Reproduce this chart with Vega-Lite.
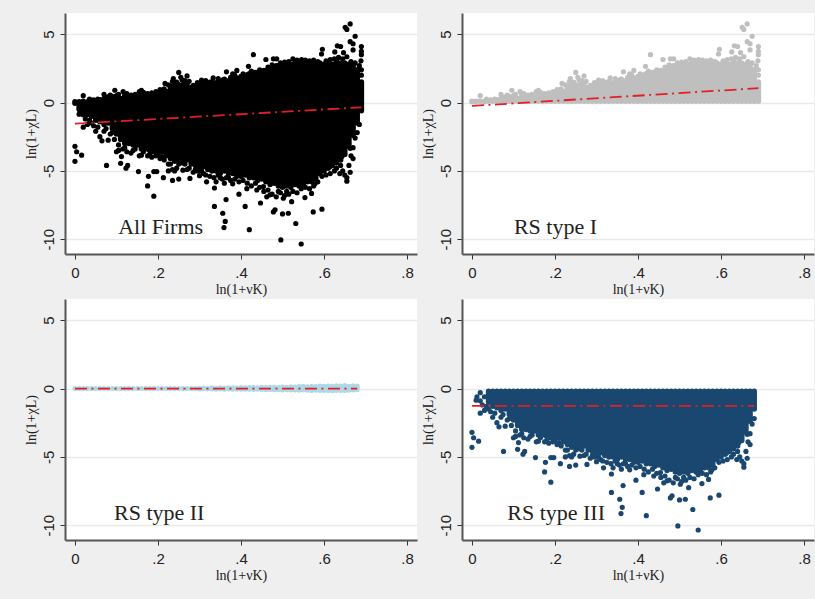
{"$schema":"https://vega.github.io/schema/vega-lite/v6.json","background":"#efefef","padding":{"left":24,"top":13,"right":1,"bottom":20},"autosize":{"type":"pad"},"columns":2,"spacing":{"row":3,"column":4},
"config":{"view":{"fill":"white","stroke":null},"axis":{"labelFont":"Liberation Sans","labelFontSize":15,"labelColor":"#222","titleFont":"Liberation Serif","titleFontSize":14,"titleFontWeight":"normal","titleColor":"#222","domainColor":"#555","domainWidth":2,"tickColor":"#333","tickSize":5,"tickWidth":1},"axisX":{"grid":false,"labelPadding":6,"titlePadding":2,"labelAngle":0},"axisY":{"grid":true,"gridColor":"#e9e9e9","gridWidth":1.5,"labelAngle":-90,"labelPadding":4,"titlePadding":3,"labelBaseline":"bottom","labelAlign":"center"}},
"datasets":{
"core":[{"x":0,"top":0.05,"bot":-0.05,"u":0,"l":0},{"x":0.01,"top":0.05,"bot":-0.5,"u":0,"l":0},{"x":0.02,"top":0.1,"bot":-0.7,"u":0,"l":0},{"x":0.03,"top":0.05,"bot":-0.9,"u":0,"l":0},{"x":0.04,"top":0.15,"bot":-1,"u":0,"l":0},{"x":0.05,"top":0.1,"bot":-1.3,"u":0,"l":0},{"x":0.06,"top":0.2,"bot":-1.4,"u":0,"l":0},{"x":0.07,"top":0.3,"bot":-1.6,"u":0,"l":0},{"x":0.08,"top":0.4,"bot":-1.5,"u":0,"l":0},{"x":0.09,"top":0.35,"bot":-1.9,"u":0,"l":0},{"x":0.1,"top":0.5,"bot":-2.3,"u":0,"l":0},{"x":0.11,"top":0.3,"bot":-2.7,"u":0,"l":0},{"x":0.12,"top":0.55,"bot":-3,"u":0,"l":0},{"x":0.13,"top":0.35,"bot":-3,"u":0,"l":0},{"x":0.14,"top":0.3,"bot":-3.1,"u":0,"l":0},{"x":0.15,"top":0.45,"bot":-3.1,"u":0,"l":0},{"x":0.16,"top":0.65,"bot":-3.4,"u":0,"l":0},{"x":0.17,"top":0.5,"bot":-3.4,"u":0,"l":0},{"x":0.18,"top":0.45,"bot":-3.5,"u":0,"l":0},{"x":0.19,"top":0.6,"bot":-3.6,"u":0,"l":0},{"x":0.2,"top":0.6,"bot":-3.8,"u":0,"l":0},{"x":0.21,"top":0.8,"bot":-3.6,"u":0,"l":0},{"x":0.22,"top":0.8,"bot":-3.9,"u":0,"l":0},{"x":0.23,"top":1.2,"bot":-4.1,"u":0,"l":0},{"x":0.24,"top":1.4,"bot":-4.3,"u":0,"l":0},{"x":0.25,"top":1.3,"bot":-4.2,"u":0,"l":0},{"x":0.26,"top":1.3,"bot":-4.4,"u":0,"l":0},{"x":0.27,"top":1.4,"bot":-4.2,"u":0,"l":0},{"x":0.28,"top":1.1,"bot":-4.5,"u":0,"l":0},{"x":0.29,"top":1.2,"bot":-4.6,"u":0,"l":0},{"x":0.3,"top":1.35,"bot":-4.7,"u":0.03,"l":-0.03},{"x":0.31,"top":1.4,"bot":-4.7,"u":0.04,"l":-0.02},{"x":0.32,"top":1.35,"bot":-4.9,"u":0.02,"l":-0.04},{"x":0.33,"top":1.5,"bot":-5,"u":0.05,"l":-0.03},{"x":0.34,"top":1.45,"bot":-5,"u":0.03,"l":-0.05},{"x":0.35,"top":1.5,"bot":-5.2,"u":0.05,"l":-0.04},{"x":0.36,"top":1.7,"bot":-5,"u":0.04,"l":-0.05},{"x":0.37,"top":1.6,"bot":-5.2,"u":0.06,"l":-0.04},{"x":0.38,"top":1.8,"bot":-5.2,"u":0.05,"l":-0.05},{"x":0.39,"top":1.8,"bot":-5.4,"u":0.04,"l":-0.06},{"x":0.4,"top":1.9,"bot":-5.4,"u":0.07,"l":-0.05},{"x":0.41,"top":1.9,"bot":-5.3,"u":0.06,"l":-0.05},{"x":0.42,"top":2.1,"bot":-5.5,"u":0.08,"l":-0.06},{"x":0.43,"top":2,"bot":-5.5,"u":0.07,"l":-0.07},{"x":0.44,"top":2.2,"bot":-5.7,"u":0.06,"l":-0.06},{"x":0.45,"top":2.2,"bot":-5.6,"u":0.09,"l":-0.07},{"x":0.46,"top":2.3,"bot":-5.8,"u":0.08,"l":-0.08},{"x":0.47,"top":2.5,"bot":-6,"u":0.09,"l":-0.07},{"x":0.48,"top":2.5,"bot":-5.9,"u":0.1,"l":-0.08},{"x":0.49,"top":2.7,"bot":-6.1,"u":0.08,"l":-0.09},{"x":0.5,"top":2.7,"bot":-6.2,"u":0.12,"l":-0.1},{"x":0.51,"top":2.8,"bot":-6.1,"u":0.1,"l":-0.09},{"x":0.52,"top":2.8,"bot":-6.2,"u":0.13,"l":-0.11},{"x":0.53,"top":2.9,"bot":-6,"u":0.11,"l":-0.1},{"x":0.54,"top":2.9,"bot":-6.1,"u":0.14,"l":-0.12},{"x":0.55,"top":2.8,"bot":-6,"u":0.16,"l":-0.11},{"x":0.56,"top":2.9,"bot":-5.8,"u":0.13,"l":-0.12},{"x":0.57,"top":2.85,"bot":-5.8,"u":0.17,"l":-0.14},{"x":0.58,"top":2.8,"bot":-5.6,"u":0.15,"l":-0.13},{"x":0.59,"top":2.9,"bot":-5.2,"u":0.18,"l":-0.14},{"x":0.6,"top":2.8,"bot":-5,"u":0.16,"l":-0.15},{"x":0.61,"top":2.9,"bot":-4.8,"u":0.19,"l":-0.14},{"x":0.62,"top":2.8,"bot":-4.6,"u":0.17,"l":-0.16},{"x":0.63,"top":3,"bot":-4.4,"u":0.2,"l":-0.15},{"x":0.64,"top":2.9,"bot":-4.2,"u":0.18,"l":-0.14},{"x":0.65,"top":2.9,"bot":-3.8,"u":0.23,"l":-0.15},{"x":0.66,"top":2.8,"bot":-3.2,"u":0.16,"l":-0.13},{"x":0.67,"top":2.7,"bot":-2.4,"u":0.2,"l":-0.1},{"x":0.68,"top":2.4,"bot":-1.5,"u":0.18,"l":-0.08},{"x":0.69,"top":1.5,"bot":-0.6}],
"pts":[{"x":0,"y":-3.2,"g":"l"},{"x":0.004,"y":-3.6,"g":"l"},{"x":0.016,"y":-3.85,"g":"l"},{"x":0,"y":-4.3,"g":"l"},{"x":0.076,"y":-4.6,"g":"l"},{"x":0.11,"y":-4.45,"g":"l"},{"x":0.1,"y":-3.6,"g":"l"},{"x":0.112,"y":-3.95,"g":"l"},{"x":0.127,"y":-4.6,"g":"l"},{"x":0.123,"y":-4.8,"g":"l"},{"x":0.153,"y":-5.05,"g":"l"},{"x":0.175,"y":-6.1,"g":"l"},{"x":0.177,"y":-5.4,"g":"l"},{"x":0.19,"y":-5.05,"g":"l"},{"x":0.197,"y":-5.05,"g":"l"},{"x":0.19,"y":-6.85,"g":"l"},{"x":0.213,"y":-5.5,"g":"l"},{"x":0.235,"y":-5.7,"g":"l"},{"x":0.225,"y":-5,"g":"l"},{"x":0.25,"y":-5.6,"g":"l"},{"x":0.26,"y":-4.95,"g":"l"},{"x":0.277,"y":-5.55,"g":"l"},{"x":0.3,"y":-5.35,"g":"l"},{"x":0.317,"y":-5.8,"g":"l"},{"x":0.336,"y":-6.25,"g":"l"},{"x":0.336,"y":-7.6,"g":"l"},{"x":0.356,"y":-8.1,"g":"l"},{"x":0.364,"y":-7.1,"g":"l"},{"x":0.362,"y":-8.7,"g":"l"},{"x":0.359,"y":-9.15,"g":"l"},{"x":0.34,"y":-5.8,"g":"l"},{"x":0.36,"y":-5.9,"g":"l"},{"x":0.38,"y":-5.95,"g":"l"},{"x":0.395,"y":-6.7,"g":"l"},{"x":0.41,"y":-7.6,"g":"l"},{"x":0.42,"y":-9.3,"g":"l"},{"x":0.414,"y":-6.3,"g":"l"},{"x":0.438,"y":-6.4,"g":"l"},{"x":0.447,"y":-7.35,"g":"l"},{"x":0.454,"y":-6.15,"g":"l"},{"x":0.462,"y":-6.9,"g":"l"},{"x":0.478,"y":-8,"g":"l"},{"x":0.482,"y":-7.85,"g":"l"},{"x":0.496,"y":-10.05,"g":"l"},{"x":0.5,"y":-8.15,"g":"l"},{"x":0.514,"y":-8.1,"g":"l"},{"x":0.502,"y":-7,"g":"l"},{"x":0.522,"y":-7.25,"g":"l"},{"x":0.532,"y":-8.85,"g":"l"},{"x":0.545,"y":-10.35,"g":"l"},{"x":0.554,"y":-6.95,"g":"l"},{"x":0.57,"y":-6.65,"g":"l"},{"x":0.574,"y":-8,"g":"l"},{"x":0.595,"y":-7.8,"g":"l"},{"x":0.578,"y":-5.95,"g":"l"},{"x":0.622,"y":-4.45,"g":"l"},{"x":0.638,"y":-5.2,"g":"l"},{"x":0.655,"y":-5.75,"g":"l"},{"x":0.663,"y":-5.1,"g":"l"},{"x":0.67,"y":-4.1,"g":"l"},{"x":0.663,"y":-3.35,"g":"l"},{"x":0.643,"y":-3.95,"g":"l"},{"x":0.627,"y":-3.2,"g":"l"},{"x":0.614,"y":-4.7,"g":"l"},{"x":0.51,"y":-6.5,"g":"l"},{"x":0.47,"y":-6.75,"g":"l"},{"x":0.49,"y":-6.5,"g":"l"},{"x":0.02,"y":-1.8,"g":"l"},{"x":0.03,"y":-1.6,"g":"l"},{"x":0.05,"y":-2.1,"g":"l"},{"x":0.06,"y":-2.5,"g":"l"},{"x":0.065,"y":-2.8,"g":"l"},{"x":0.08,"y":-2.75,"g":"l"},{"x":0.09,"y":-2.2,"g":"l"},{"x":0.04,"y":-1.5,"g":"l"},{"x":0.07,"y":-2.1,"g":"l"},{"x":0.105,"y":-3.1,"g":"l"},{"x":0.12,"y":-3.3,"g":"l"},{"x":0.14,"y":-3.5,"g":"l"},{"x":0.16,"y":-3.85,"g":"l"},{"x":0.18,"y":-3.8,"g":"l"},{"x":0.21,"y":-3.95,"g":"l"},{"x":0.23,"y":-4.5,"g":"l"},{"x":0.25,"y":-4.5,"g":"l"},{"x":0.24,"y":-5,"g":"l"},{"x":0.27,"y":-4.9,"g":"l"},{"x":0.29,"y":-4.9,"g":"l"},{"x":0.31,"y":-5.2,"g":"l"},{"x":0.35,"y":-5.5,"g":"l"},{"x":0.37,"y":-5.5,"g":"l"},{"x":0.012,"y":-0.6,"g":"l"},{"x":0.02,"y":-0.3,"g":"l"},{"x":0.02,"y":-0.9,"g":"l"},{"x":0.03,"y":-0.6,"g":"l"},{"x":0.01,"y":-0.85,"g":"l"},{"x":0.025,"y":-1.2,"g":"l"},{"x":0.035,"y":-1.3,"g":"l"},{"x":0.045,"y":-1.7,"g":"l"},{"x":0.055,"y":-1.8,"g":"l"},{"x":0.075,"y":-1.9,"g":"l"},{"x":0.085,"y":-2.3,"g":"l"},{"x":0.095,"y":-2.7,"g":"l"},{"x":0.105,"y":-3.5,"g":"l"},{"x":0.115,"y":-3.4,"g":"l"},{"x":0.125,"y":-3.6,"g":"l"},{"x":0.135,"y":-3.7,"g":"l"},{"x":0.145,"y":-3.4,"g":"l"},{"x":0.155,"y":-3.9,"g":"l"},{"x":0.165,"y":-3.6,"g":"l"},{"x":0.175,"y":-3.9,"g":"l"},{"x":0.185,"y":-4,"g":"l"},{"x":0.195,"y":-3.9,"g":"l"},{"x":0.205,"y":-4.1,"g":"l"},{"x":0.215,"y":-4.2,"g":"l"},{"x":0.225,"y":-4.5,"g":"l"},{"x":0.235,"y":-4.9,"g":"l"},{"x":0.245,"y":-4.8,"g":"l"},{"x":0.255,"y":-4.4,"g":"l"},{"x":0.265,"y":-4.5,"g":"l"},{"x":0.275,"y":-4.8,"g":"l"},{"x":0.285,"y":-5.1,"g":"l"},{"x":0.295,"y":-5,"g":"l"},{"x":0.305,"y":-5,"g":"l"},{"x":0.315,"y":-5.3,"g":"l"},{"x":0.325,"y":-5.4,"g":"l"},{"x":0.335,"y":-5.5,"g":"l"},{"x":0.345,"y":-5.3,"g":"l"},{"x":0.355,"y":-5.6,"g":"l"},{"x":0.365,"y":-5.5,"g":"l"},{"x":0.375,"y":-5.7,"g":"l"},{"x":0.385,"y":-5.6,"g":"l"},{"x":0.395,"y":-5.8,"g":"l"},{"x":0.405,"y":-5.7,"g":"l"},{"x":0.415,"y":-5.9,"g":"l"},{"x":0.425,"y":-6.1,"g":"l"},{"x":0.435,"y":-5.9,"g":"l"},{"x":0.445,"y":-6.2,"g":"l"},{"x":0.455,"y":-6.5,"g":"l"},{"x":0.465,"y":-6.4,"g":"l"},{"x":0.475,"y":-6.7,"g":"l"},{"x":0.485,"y":-6.9,"g":"l"},{"x":0.495,"y":-6.6,"g":"l"},{"x":0.505,"y":-6.8,"g":"l"},{"x":0.515,"y":-6.7,"g":"l"},{"x":0.525,"y":-6.5,"g":"l"},{"x":0.535,"y":-6.6,"g":"l"},{"x":0.545,"y":-6.3,"g":"l"},{"x":0.555,"y":-6.2,"g":"l"},{"x":0.565,"y":-6.3,"g":"l"},{"x":0.575,"y":-6.1,"g":"l"},{"x":0.585,"y":-5.8,"g":"l"},{"x":0.595,"y":-5.4,"g":"l"},{"x":0.605,"y":-5.3,"g":"l"},{"x":0.615,"y":-5.2,"g":"l"},{"x":0.625,"y":-5,"g":"l"},{"x":0.63,"y":-4.8,"g":"l"},{"x":0.64,"y":-4.6,"g":"l"},{"x":0.645,"y":-5,"g":"l"},{"x":0.65,"y":-5.3,"g":"l"},{"x":0.655,"y":-5.5,"g":"l"},{"x":0.66,"y":-4.6,"g":"l"},{"x":0.665,"y":-3.9,"g":"l"},{"x":0.67,"y":-3.3,"g":"l"},{"x":0.675,"y":-2.6,"g":"l"},{"x":0.68,"y":-2.2,"g":"l"},{"x":0.685,"y":-1.6,"g":"l"},{"x":0.655,"y":5.35,"g":"u"},{"x":0.663,"y":5.75,"g":"u"},{"x":0.651,"y":5.5,"g":"u"},{"x":0.675,"y":4.85,"g":"u"},{"x":0.663,"y":4.45,"g":"u"},{"x":0.67,"y":4.3,"g":"u"},{"x":0.69,"y":4.1,"g":"u"},{"x":0.69,"y":3.75,"g":"u"},{"x":0.69,"y":3.5,"g":"u"},{"x":0.689,"y":3.05,"g":"u"},{"x":0.632,"y":4.15,"g":"u"},{"x":0.64,"y":4.1,"g":"u"},{"x":0.647,"y":3.65,"g":"u"},{"x":0.596,"y":3.9,"g":"u"},{"x":0.594,"y":3.55,"g":"u"},{"x":0.67,"y":3.85,"g":"u"},{"x":0.626,"y":3.7,"g":"u"},{"x":0.43,"y":3.5,"g":"u"},{"x":0.418,"y":2.65,"g":"u"},{"x":0.46,"y":3.15,"g":"u"},{"x":0.478,"y":3.2,"g":"u"},{"x":0.486,"y":3.2,"g":"u"},{"x":0.525,"y":3.2,"g":"u"},{"x":0.546,"y":3.15,"g":"u"},{"x":0.25,"y":2.2,"g":"u"},{"x":0.27,"y":1.95,"g":"u"},{"x":0.217,"y":1.4,"g":"u"},{"x":0.237,"y":1.75,"g":"u"},{"x":0.258,"y":1.65,"g":"u"},{"x":0.365,"y":2.25,"g":"u"},{"x":0.39,"y":2.35,"g":"u"},{"x":0.333,"y":1.8,"g":"u"},{"x":0.305,"y":1.65,"g":"u"},{"x":0.38,"y":2.1,"g":"u"},{"x":0.02,"y":0.5,"g":"u"},{"x":0.096,"y":0.9,"g":"u"},{"x":0.16,"y":0.9,"g":"u"},{"x":0.116,"y":0.8,"g":"u"},{"x":0.07,"y":0.6,"g":"u"},{"x":0.035,"y":0.25,"g":"u"},{"x":0.045,"y":0.2,"g":"u"},{"x":0.055,"y":0.25,"g":"u"},{"x":0.085,"y":0.55,"g":"u"},{"x":0.09,"y":0.45,"g":"u"},{"x":0.105,"y":0.6,"g":"u"},{"x":0.125,"y":0.65,"g":"u"},{"x":0.135,"y":0.55,"g":"u"},{"x":0.145,"y":0.6,"g":"u"},{"x":0.155,"y":0.8,"g":"u"},{"x":0.165,"y":0.75,"g":"u"},{"x":0.175,"y":0.65,"g":"u"},{"x":0.185,"y":0.7,"g":"u"},{"x":0.195,"y":0.8,"g":"u"},{"x":0.205,"y":0.95,"g":"u"},{"x":0.215,"y":1,"g":"u"},{"x":0.225,"y":1.3,"g":"u"},{"x":0.235,"y":1.55,"g":"u"},{"x":0.245,"y":1.5,"g":"u"},{"x":0.255,"y":1.85,"g":"u"},{"x":0.265,"y":1.6,"g":"u"},{"x":0.275,"y":1.55,"g":"u"},{"x":0.285,"y":1.25,"g":"u"},{"x":0.295,"y":1.45,"g":"u"},{"x":0.315,"y":1.6,"g":"u"},{"x":0.325,"y":1.5,"g":"u"},{"x":0.345,"y":1.75,"g":"u"},{"x":0.355,"y":1.65,"g":"u"},{"x":0.375,"y":1.85,"g":"u"},{"x":0.385,"y":2,"g":"u"},{"x":0.405,"y":2.1,"g":"u"},{"x":0.415,"y":2.05,"g":"u"},{"x":0.425,"y":2.3,"g":"u"},{"x":0.435,"y":2.2,"g":"u"},{"x":0.445,"y":2.4,"g":"u"},{"x":0.455,"y":2.35,"g":"u"},{"x":0.465,"y":2.6,"g":"u"},{"x":0.475,"y":2.75,"g":"u"},{"x":0.485,"y":2.7,"g":"u"},{"x":0.495,"y":2.9,"g":"u"},{"x":0.505,"y":2.95,"g":"u"},{"x":0.515,"y":3,"g":"u"},{"x":0.535,"y":3.1,"g":"u"},{"x":0.555,"y":3.1,"g":"u"},{"x":0.565,"y":3.05,"g":"u"},{"x":0.575,"y":3.1,"g":"u"},{"x":0.585,"y":3,"g":"u"},{"x":0.605,"y":3.05,"g":"u"},{"x":0.615,"y":3.15,"g":"u"},{"x":0.625,"y":3.2,"g":"u"},{"x":0.635,"y":3.3,"g":"u"},{"x":0.645,"y":3.2,"g":"u"},{"x":0.655,"y":3.35,"g":"u"},{"x":0.665,"y":3,"g":"u"},{"x":0.675,"y":2.9,"g":"u"},{"x":0.685,"y":2.7,"g":"u"},{"x":0.69,"y":2.4,"g":"u"},{"x":0.69,"y":2,"g":"u"}],
"fit":[{"x":0,"y":-1.55,"p":"all"},{"x":0.69,"y":-0.35,"p":"all"},{"x":0,"y":-0.25,"p":"one"},{"x":0.69,"y":1.05,"p":"one"},{"x":0,"y":0,"p":"two"},{"x":0.68,"y":0,"p":"two"},{"x":0,"y":-1.27,"p":"three"},{"x":0.68,"y":-1.27,"p":"three"}]},
"concat":[
{"width":352,"height":241,"layer":[
{"data":{"name":"core"},"mark":{"type":"rule","strokeWidth":5.5,"strokeCap":"round","color":"#000"},"encoding":{"x":{"field":"x","type":"quantitative","scale":{"domain":[-0.024,0.824],"nice":false,"zero":false},"axis":{"values":[0,0.2,0.4,0.6,0.8],"labelExpr":"datum.value==0?'0':replace(format(datum.value,'.1f'),'0.','.')","title":"ln(1+νK)"}},"y":{"field":"bot","type":"quantitative","scale":{"domain":[-11.08,6.55],"nice":false,"zero":false},"axis":{"values":[-10,-5,0,5],"labelExpr":"''+datum.value","title":"ln(1+χL)"}},"y2":{"field":"top"}}},
{"data":{"name":"pts"},"mark":{"type":"circle","size":27,"color":"#000","opacity":1},"encoding":{"x":{"field":"x","type":"quantitative"},"y":{"field":"y","type":"quantitative"}}},
{"data":{"name":"fit"},"transform":[{"filter":"datum.p=='all'"}],"mark":{"type":"line","color":"#e21f26","strokeWidth":1.8,"strokeDash":[12,4.5,2,4.5]},"encoding":{"x":{"field":"x","type":"quantitative"},"y":{"field":"y","type":"quantitative"}}},
{"data":{"values":[{"x":0.104,"y":-9.6,"t":"All Firms"}]},"mark":{"type":"text","font":"Liberation Serif","fontSize":22,"align":"left","baseline":"alphabetic","color":"#222"},"encoding":{"x":{"field":"x","type":"quantitative"},"y":{"field":"y","type":"quantitative"},"text":{"field":"t"}}}]},
{"width":352,"height":241,"layer":[
{"data":{"name":"core"},"mark":{"type":"rule","strokeWidth":5.5,"strokeCap":"round","color":"#bfbfbf"},"encoding":{"x":{"field":"x","type":"quantitative","scale":{"domain":[-0.024,0.824],"nice":false,"zero":false},"axis":{"values":[0,0.2,0.4,0.6,0.8],"labelExpr":"datum.value==0?'0':replace(format(datum.value,'.1f'),'0.','.')","title":"ln(1+νK)"}},"y":{"field":"top","type":"quantitative","scale":{"domain":[-11.08,6.55],"nice":false,"zero":false},"axis":{"values":[-10,-5,0,5],"labelExpr":"''+datum.value","title":"ln(1+χL)"}},"y2":{"datum":0.1}}},
{"data":{"name":"pts"},"transform":[{"filter":"datum.g=='u'"}],"mark":{"type":"circle","size":27,"color":"#bfbfbf","opacity":1},"encoding":{"x":{"field":"x","type":"quantitative"},"y":{"field":"y","type":"quantitative"}}},
{"data":{"name":"fit"},"transform":[{"filter":"datum.p=='one'"}],"mark":{"type":"line","color":"#e21f26","strokeWidth":1.8,"strokeDash":[12,4.5,2,4.5]},"encoding":{"x":{"field":"x","type":"quantitative"},"y":{"field":"y","type":"quantitative"}}},
{"data":{"values":[{"x":0.101,"y":-9.6,"t":"RS type I"}]},"mark":{"type":"text","font":"Liberation Serif","fontSize":22,"align":"left","baseline":"alphabetic","color":"#222"},"encoding":{"x":{"field":"x","type":"quantitative"},"y":{"field":"y","type":"quantitative"},"text":{"field":"t"}}}]},
{"width":352,"height":241,"layer":[
{"data":{"name":"core"},"transform":[{"filter":"datum.x<=0.68"}],"mark":{"type":"rule","strokeWidth":5,"strokeCap":"round","color":"#add8e6"},"encoding":{"x":{"field":"x","type":"quantitative","scale":{"domain":[-0.024,0.824],"nice":false,"zero":false},"axis":{"values":[0,0.2,0.4,0.6,0.8],"labelExpr":"datum.value==0?'0':replace(format(datum.value,'.1f'),'0.','.')","title":"ln(1+νK)"}},"y":{"field":"l","type":"quantitative","scale":{"domain":[-11.08,6.55],"nice":false,"zero":false},"axis":{"values":[-10,-5,0,5],"labelExpr":"''+datum.value","title":"ln(1+χL)"}},"y2":{"field":"u"}}},
{"data":{"name":"fit"},"transform":[{"filter":"datum.p=='two'"}],"mark":{"type":"line","color":"#e21f26","strokeWidth":1.8,"strokeDash":[12,4.5,2,4.5]},"encoding":{"x":{"field":"x","type":"quantitative"},"y":{"field":"y","type":"quantitative"}}},
{"data":{"values":[{"x":0.094,"y":-9.63,"t":"RS type II"}]},"mark":{"type":"text","font":"Liberation Serif","fontSize":22,"align":"left","baseline":"alphabetic","color":"#222"},"encoding":{"x":{"field":"x","type":"quantitative"},"y":{"field":"y","type":"quantitative"},"text":{"field":"t"}}}]},
{"width":352,"height":241,"layer":[
{"data":{"name":"core"},"transform":[{"filter":"datum.x<=0.68&&datum.x>=0.04"}],"mark":{"type":"rule","strokeWidth":5.5,"strokeCap":"round","color":"#1a476f"},"encoding":{"x":{"field":"x","type":"quantitative","scale":{"domain":[-0.024,0.824],"nice":false,"zero":false},"axis":{"values":[0,0.2,0.4,0.6,0.8],"labelExpr":"datum.value==0?'0':replace(format(datum.value,'.1f'),'0.','.')","title":"ln(1+νK)"}},"y":{"field":"bot","type":"quantitative","scale":{"domain":[-11.08,6.55],"nice":false,"zero":false},"axis":{"values":[-10,-5,0,5],"labelExpr":"''+datum.value","title":"ln(1+χL)"}},"y2":{"datum":-0.2}}},
{"data":{"name":"pts"},"transform":[{"filter":"datum.g=='l'&&datum.x<=0.68"}],"mark":{"type":"circle","size":27,"color":"#1a476f","opacity":1},"encoding":{"x":{"field":"x","type":"quantitative"},"y":{"field":"y","type":"quantitative"}}},
{"data":{"name":"fit"},"transform":[{"filter":"datum.p=='three'"}],"mark":{"type":"line","color":"#e21f26","strokeWidth":1.8,"strokeDash":[12,4.5,2,4.5]},"encoding":{"x":{"field":"x","type":"quantitative"},"y":{"field":"y","type":"quantitative"}}},
{"data":{"values":[{"x":0.085,"y":-9.63,"t":"RS type III"}]},"mark":{"type":"text","font":"Liberation Serif","fontSize":22,"align":"left","baseline":"alphabetic","color":"#222"},"encoding":{"x":{"field":"x","type":"quantitative"},"y":{"field":"y","type":"quantitative"},"text":{"field":"t"}}}]}
]}
